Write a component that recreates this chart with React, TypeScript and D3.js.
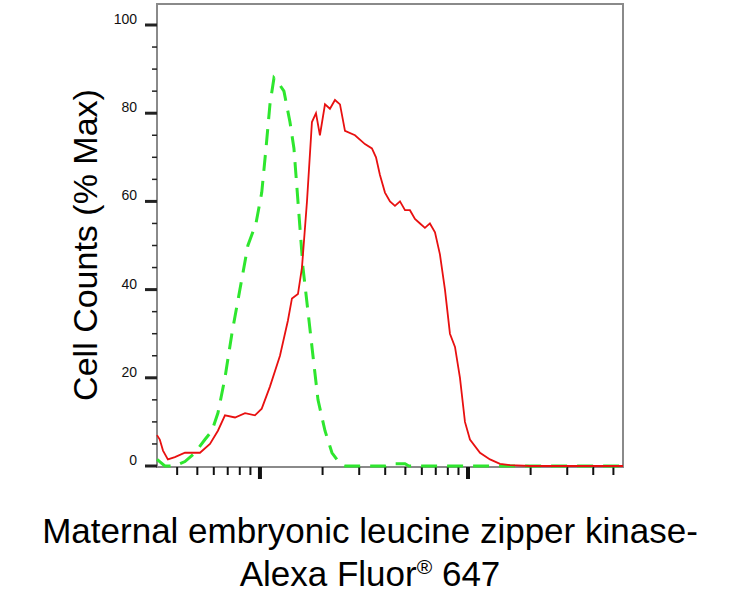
import React, { useEffect, useRef } from 'react';
import * as d3 from 'd3';

// red: stained sample, green: isotype control
const redX = [32, 33, 34.2, 36.1, 39, 43.6, 51.5, 57.5, 62.8, 67.9, 75.9, 84.8, 94.6, 102, 111.7, 124.8, 136.3, 142.5, 152.3, 159.2, 168.3, 177.8, 185.9, 194.2, 205.4, 217, 229.4, 242.5, 256.3, 286.3, 319.7, 345.3, 361.3, 377.4, 399, 421.7, 445.7, 471, 498, 526, 556, 588, 621, 656, 694, 733, 775, 819, 866, 915, 967, 1022, 1142, 1276, 1425, 1592, 1987, 5560];
const redY = [7, 6, 3.5, 1.5, 2, 3, 3, 5, 8, 11.5, 11, 12, 11.5, 13, 18, 25, 33, 38, 39, 45, 60, 78, 80, 75, 82, 81, 83, 82, 76, 75, 73, 72, 70, 66, 62, 60, 59, 60, 58, 58, 56, 55, 54, 55, 53, 48, 40, 30, 27, 20, 10, 6, 3, 1.5, 0.5, 0.2, 0, 0];
const greenX = [32, 34.9, 39, 43.6, 48.7, 54.4, 58.8, 62.8, 67.9, 73.3, 80.1, 87.5, 95.7, 102, 106.9, 111.7, 116.8, 122.1, 130.4, 139.4, 145.7, 152.3, 161, 170.2, 179.8, 190.1, 205.4, 221.9, 242.5, 256.3, 400, 421.7, 498, 520, 5560];
const greenY = [1.5, 0, 0, 1, 3, 6, 8, 12, 20, 30, 40, 50, 55, 62, 72, 82, 88, 87, 85, 78, 72, 60, 45, 35, 25, 15, 8, 3, 0.5, 0, 0, 0.5, 0.5, 0, 0];
const yTicks = [0, 20, 40, 60, 80, 100];

export default function App() {
  const ref = useRef<SVGSVGElement>(null);

  useEffect(() => {
    const svg = d3.select(ref.current);
    svg.selectAll('*').remove();

    const left = 157, right = 623, top = 4, bottom = 467;
    const x = d3.scaleLog().domain([32, 5560]).range([left, right]);
    const y = d3.scaleLinear().domain([0, 100]).range([466, 25]);
    const font = 'Arial, Liberation Sans, sans-serif';

    // frame
    svg.append('rect').attr('x', left).attr('y', top).attr('width', right - left).attr('height', bottom - top)
      .attr('fill', 'none').attr('stroke', '#8a8a8a').attr('stroke-width', 2);

    // y ticks
    const minorY = d3.range(0, 101, 5).filter((v) => v % 20 !== 0);
    svg.selectAll('.ym').data(minorY).enter().append('line')
      .attr('x1', left - 5).attr('x2', left).attr('y1', (d) => y(d)).attr('y2', (d) => y(d))
      .attr('stroke', '#222').attr('stroke-width', 1.5);
    svg.selectAll('.yM').data(yTicks).enter().append('line')
      .attr('x1', left - 12).attr('x2', left).attr('y1', (d) => y(d)).attr('y2', (d) => y(d))
      .attr('stroke', '#222').attr('stroke-width', 3);
    svg.selectAll('.yl').data(yTicks).enter().append('text')
      .attr('x', left - 20).attr('y', (d) => y(d) - 1).attr('text-anchor', 'end')
      .attr('font-family', font).attr('font-size', 14).attr('fill', '#111')
      .text((d) => d);

    // x ticks (log)
    const minorX = x.ticks().filter((v) => v > 32 && v < 5560 && v !== 100 && v !== 1000);
    svg.selectAll('.xm').data(minorX).enter().append('line')
      .attr('x1', (d) => x(d)).attr('x2', (d) => x(d)).attr('y1', bottom).attr('y2', bottom + 8)
      .attr('stroke', '#111').attr('stroke-width', 2);
    svg.selectAll('.xM').data([100, 1000]).enter().append('line')
      .attr('x1', (d) => x(d)).attr('x2', (d) => x(d)).attr('y1', bottom).attr('y2', bottom + 12)
      .attr('stroke', '#111').attr('stroke-width', 4);

    svg.append('path')
      .attr('d', d3.line<number>().x((d) => x(d)).y((_, i) => y(greenY[i]))(greenX))
      .attr('fill', 'none').attr('stroke', '#2ee62e').attr('stroke-width', 3)
      .attr('stroke-dasharray', '16 10');
    svg.append('path')
      .attr('d', d3.line<number>().x((d) => x(d)).y((_, i) => y(redY[i]))(redX))
      .attr('fill', 'none').attr('stroke', '#e81010').attr('stroke-width', 1.8);

    // labels
    svg.append('text').attr('transform', 'translate(97,245) rotate(-90)').attr('text-anchor', 'middle')
      .attr('font-family', font).attr('font-size', 34).attr('fill', '#000')
      .text('Cell Counts (% Max)');
    svg.append('text').attr('x', 370).attr('y', 543).attr('text-anchor', 'middle')
      .attr('font-family', font).attr('font-size', 35).attr('fill', '#000')
      .text('Maternal embryonic leucine zipper kinase-');
    const t2 = svg.append('text').attr('x', 370).attr('y', 586).attr('text-anchor', 'middle')
      .attr('font-family', font).attr('font-size', 35).attr('fill', '#000');
    t2.append('tspan').text('Alexa Fluor');
    t2.append('tspan').attr('font-size', 21).attr('dy', -12).text('®');
    t2.append('tspan').attr('dy', 12).text(' 647');
  }, []);

  return (
    <svg ref={ref} width={743} height={603}
      style={{ position: 'absolute', left: 0, top: 0, background: '#fff' }} />
  );
}
